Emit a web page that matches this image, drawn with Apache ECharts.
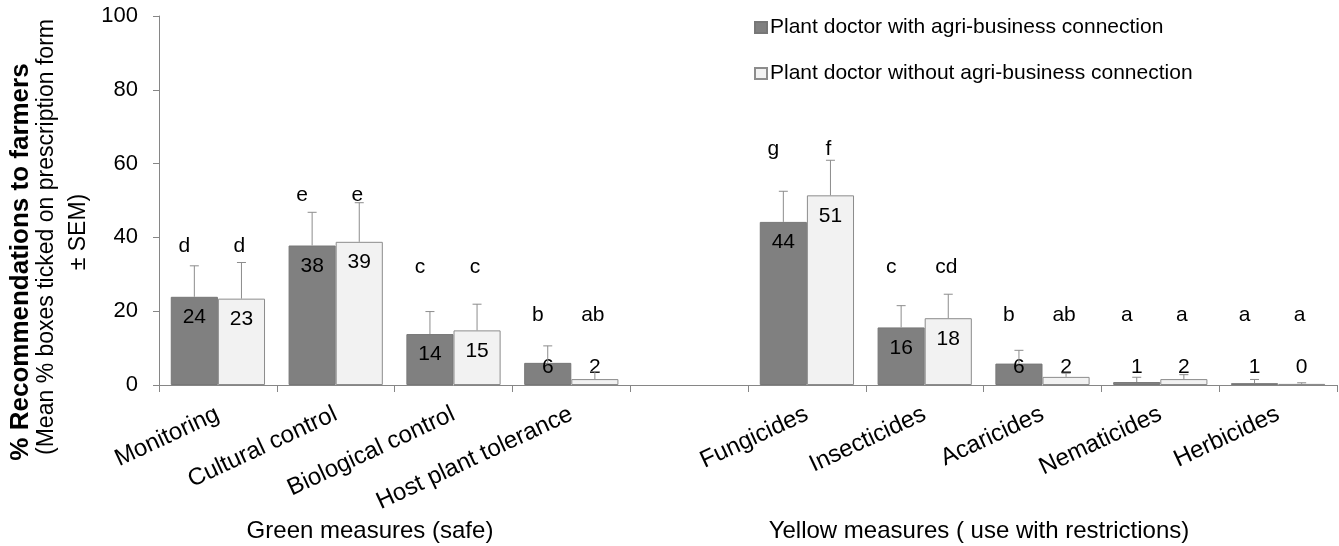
<!DOCTYPE html>
<html>
<head>
<meta charset="utf-8">
<script src="https://cdn.jsdelivr.net/npm/echarts@6/dist/echarts.min.js"></script>
<style>
html,body{margin:0;padding:0;background:#fff;}
#chart{width:1339px;height:546px;}
</style>
</head>
<body>
<div id="chart"></div>
<script>
// ---- data ----
const categories = ['Monitoring', 'Cultural control', 'Biological control', 'Host plant tolerance', '',
  'Fungicides', 'Insecticides', 'Acaricides', 'Nematicides', 'Herbicides'];
const seriesNames = ['Plant doctor with agri-business connection', 'Plant doctor without agri-business connection'];
const withConnection = [23.9, 37.8, 13.8, 6.0, null, 44.2, 15.6, 5.8, 0.8, 0.5];
const withoutConnection = [23.4, 38.8, 14.8, 1.6, null, 51.4, 18.1, 2.2, 1.6, 0.3];
const semWith = [8.4, 9.0, 6.1, 4.6, null, 8.3, 5.9, 3.6, 1.3, 1.0];
const semWithout = [9.8, 10.6, 7.1, 2.0, null, 9.5, 6.5, 1.0, 1.2, 0.3];
const lettersWith = ['d', 'e', 'c', 'b', '', 'g', 'c', 'b', 'a', 'a'];
const lettersWithout = ['d', 'e', 'c', 'ab', '', 'f', 'cd', 'ab', 'a', 'a'];
const letterHeights = [37.5, 51.5, 32, 19, null, 64, 32, 19, 19, 19];
const yTicks = [0, 20, 40, 60, 80, 100];
const groupLabels = ['Green measures (safe)', 'Yellow measures ( use with restrictions)'];

// ---- chart ----
const FONT = '"Liberation Sans", Arial, Helvetica, sans-serif';
const chart = echarts.init(document.getElementById('chart'));

function barData(vals) {
  return vals.map(v => v == null ? null : {
    value: v,
    label: v >= 10 ? { position: 'insideTop', distance: 10 } : { position: 'insideBottom', distance: 7 }
  });
}

function errData(vals, sems, letters) {
  const out = [];
  vals.forEach((v, i) => {
    if (v == null) return;
    out.push({ value: [i, v, sems[i], letterHeights[i]], letter: letters[i] });
  });
  return out;
}

function makeErrRender(side, letterShift, data) {
  return function (params, api) {
    const i = api.value(0);
    const v = api.value(1);
    const s = api.value(2);
    const lh = api.value(3);
    const letter = data[params.dataIndex].letter;
    const band = api.size([1, 0])[0];
    const base = api.coord([i, v]);
    const top = api.coord([i, v + s]);
    const x = base[0] + side * 0.2 * band;
    const ly = api.coord([i, lh])[1];
    const col = '#8c8c8c';
    return {
      type: 'group',
      children: [
        { type: 'line', shape: { x1: x, y1: base[1], x2: x, y2: top[1] }, style: { stroke: col, lineWidth: 1 } },
        { type: 'line', shape: { x1: x - 4.5, y1: top[1], x2: x + 4.5, y2: top[1] }, style: { stroke: col, lineWidth: 1 } },
        { type: 'text', x: x + letterShift, y: ly, style: { text: letter, fill: '#000', font: '21px ' + FONT, textAlign: 'center', textVerticalAlign: 'middle' } }
      ]
    };
  };
}

const err1 = errData(withConnection, semWith, lettersWith);
const err2 = errData(withoutConnection, semWithout, lettersWithout);

const labelCommon = { show: true, color: '#000', fontSize: 21, fontFamily: FONT, formatter: p => Math.round(p.value) };

const option = {
  animation: false,
  textStyle: { fontFamily: FONT },
  grid: { left: 159, right: 2, top: 16, bottom: 161, containLabel: false },
  legend: {
    data: seriesNames,
    orient: 'vertical',
    left: 754,
    top: 17,
    padding: 0,
    itemGap: 25,
    itemWidth: 12,
    itemHeight: 11,
    icon: 'rect',
    textStyle: { fontSize: 21, color: '#000', fontFamily: FONT, padding: [0, 0, 0, -2] }
  },
  xAxis: {
    type: 'category',
    data: categories,
    axisLine: { show: true, lineStyle: { color: '#868686', width: 1 } },
    axisTick: { show: true, interval: 0, length: 7, alignWithLabel: false, lineStyle: { color: '#868686' } },
    axisLabel: { interval: 0, rotate: 25, fontSize: 24, color: '#000', fontFamily: FONT, margin: 28 },
    splitLine: { show: false }
  },
  yAxis: {
    type: 'value',
    min: yTicks[0],
    max: yTicks[yTicks.length - 1],
    interval: yTicks[1] - yTicks[0],
    axisLine: { show: true, lineStyle: { color: '#868686', width: 1 } },
    axisTick: { show: true, length: 6, lineStyle: { color: '#868686' } },
    axisLabel: { fontSize: 22, color: '#000', fontFamily: FONT, margin: 21 },
    splitLine: { show: false }
  },
  series: [
    {
      name: seriesNames[0], type: 'bar', data: barData(withConnection),
      barGap: '0%', barCategoryGap: '20%',
      itemStyle: { color: '#808080', borderColor: '#777777', borderWidth: 1 },
      label: labelCommon
    },
    {
      name: seriesNames[1], type: 'bar', data: barData(withoutConnection),
      barGap: '0%', barCategoryGap: '20%',
      itemStyle: { color: '#f2f2f2', borderColor: '#8c8c8c', borderWidth: 1 },
      label: labelCommon
    },
    {
      name: 'err1', type: 'custom', renderItem: makeErrRender(-1, -10, err1),
      data: err1, z: 5, silent: true
    },
    {
      name: 'err2', type: 'custom', renderItem: makeErrRender(1, -2, err2),
      data: err2, z: 5, silent: true
    }
  ],
  graphic: [
    { type: 'text', x: 21, y: 262, rotation: Math.PI / 2,
      style: { text: '% Recommendations to farmers', font: 'bold 26px ' + FONT, fill: '#000', textAlign: 'center', textVerticalAlign: 'middle' } },
    { type: 'text', x: 47, y: 237, rotation: Math.PI / 2,
      style: { text: '(Mean % boxes ticked on prescription form', font: '23px ' + FONT, fill: '#000', textAlign: 'center', textVerticalAlign: 'middle' } },
    { type: 'text', x: 79, y: 232, rotation: Math.PI / 2,
      style: { text: '\u00B1 SEM)', font: '23px ' + FONT, fill: '#000', textAlign: 'center', textVerticalAlign: 'middle' } },
    { type: 'text', x: 370, y: 531,
      style: { text: groupLabels[0], font: '24px ' + FONT, fill: '#000', textAlign: 'center', textVerticalAlign: 'middle' } },
    { type: 'text', x: 979, y: 531,
      style: { text: groupLabels[1], font: '24px ' + FONT, fill: '#000', textAlign: 'center', textVerticalAlign: 'middle' } }
  ]
};
chart.setOption(option);
</script>
</body>
</html>
